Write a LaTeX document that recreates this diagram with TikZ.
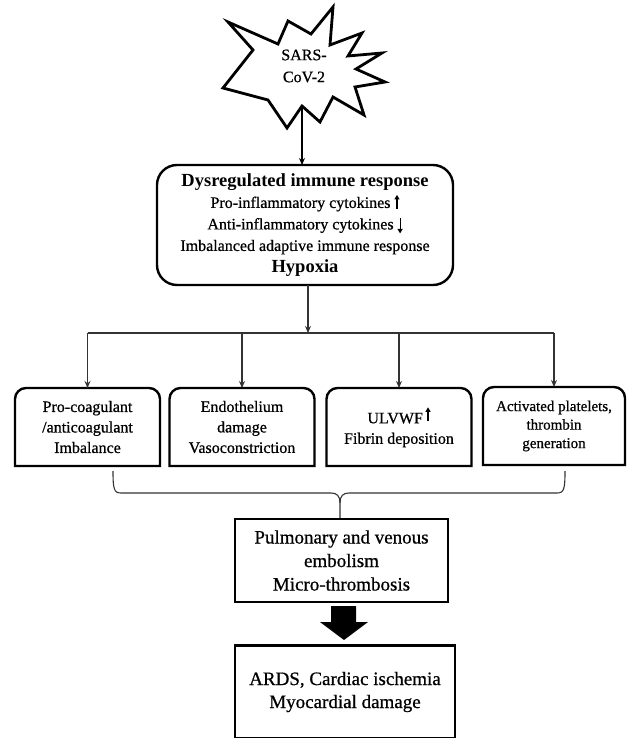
\documentclass[tikz,border=0pt]{standalone}
\usepackage{fontspec}
\setmainfont{Liberation Serif}[UprightFeatures={FakeBold=0.7}]
\usetikzlibrary{arrows.meta,calc}
\newcommand{\myuparr}{\tikz[baseline=0pt]\draw[line width=1.1pt,-{Triangle[length=4.5pt,width=5pt]}] (0pt,-1pt) -- (0pt,13pt);}
\newcommand{\mydownarr}{\tikz[baseline=0pt]\draw[line width=1.1pt,-{Triangle[length=4.5pt,width=5pt]}] (0pt,11pt) -- (0pt,-4pt);}
\newcommand{\toprounded}[1]{\draw[line width=2.4pt] (#1.south west) [rounded corners=11pt] -- (#1.north west) -- (#1.north east) [sharp corners] -- (#1.south east) -- cycle;}
\newcommand{\bigbold}[1]{{\fontsize{18.5}{21.5}\selectfont\textbf{#1}}}
\begin{document}
\begin{tikzpicture}[x=1pt,y=-1pt,
  every node/.style={inner sep=0pt, outer sep=0pt},
  box/.style={draw, line width=2.4pt, align=center},
  tbox/.style={minimum width=145pt, minimum height=78pt, align=center, font=\fontsize{16}{20.5}\selectfont},
  thinarr/.style={line width=1.1pt, draw=black!80, -{Stealth[length=7pt,width=6pt]}},
  thinline/.style={line width=1.1pt, draw=black!80},
  bracestyle/.style={line width=1.1pt, draw=black!80}]
\useasboundingbox (0,0) rectangle (628,738);
\fill[white] (0,0) rectangle (628,738);

% star
\draw[line width=2.8pt, fill=white, line join=miter]
  (228,22) -- (278,44) -- (288,21) -- (311,34) -- (333,7) -- (330,45) -- (362,33)
  -- (348,56) -- (382,53) -- (356,69) -- (385,82) -- (355,87) -- (364,115)
  -- (333,97) -- (320,122) -- (302,106) -- (287,128) -- (268,100) -- (223,88)
  -- (253,50) -- cycle;
\node[align=center, font=\fontsize{16}{22}\selectfont] (virus) at (304,66) {SARS-\\CoV-2};
\coordinate (starbot) at (302,108);

% main box
\node[box, rounded corners=20pt, minimum width=296pt, minimum height=120pt,
  font=\fontsize{16}{21.5}\selectfont] (main) at (305,225)
  {\bigbold{Dysregulated immune response}\\
   Pro-inflammatory cytokines \myuparr\\
   Anti-inflammatory cytokines \mydownarr\\
   Imbalanced adaptive immune response\\
   \bigbold{Hypoxia}};

\draw[thinarr, draw=black] (starbot) -- (starbot |- main.north);

% four boxes
\node[tbox] (b1) at (87.5,427) {Pro-coagulant\\/anticoagulant\\Imbalance};
\node[tbox] (b2) at (242,427) {Endothelium\\damage\\Vasoconstriction};
\node[tbox] (b3) at (399,427) {ULVWF\,\raisebox{3pt}{\myuparr}\\Fibrin deposition};
\node[tbox, minimum width=142pt, font=\fontsize{15}{18.5}\selectfont] (b4) at (554,426) {Activated platelets,\\thrombin\\generation};
\toprounded{b1}
\toprounded{b2}
\toprounded{b3}
\toprounded{b4}

\coordinate (split) at (308,333);
\draw[thinarr] ([xshift=3pt]main.south) -- (split);
\draw[thinline] (split -| b1.north) -- (split -| b4.north);
\foreach \b in {b1,b2,b3,b4} \draw[thinarr] (split -| \b.north) -- (\b.north);

% pulmonary box
\node[box, minimum width=213pt, minimum height=83pt, font=\fontsize{19}{23.5}\selectfont] (pul) at (341.5,560.5)
  {Pulmonary and venous\\embolism\\Micro-thrombosis};

% brace
\draw[bracestyle] (113,471) .. controls (113,489) and (114,493) .. (121,493) -- (331,493)
  .. controls (337,493) and (340,496) .. (340,503) -- (340,518);
\draw[bracestyle] (565,471) .. controls (565,489) and (564,493) .. (557,493) -- (349,493)
  .. controls (343,493) and (340,496) .. (340,503);

% final box
\node[box, minimum width=220pt, minimum height=93pt, font=\fontsize{19}{23}\selectfont] (fin) at (345,692)
  {ARDS, Cardiac ischemia\\Myocardial damage};

% thick arrow
\fill[black] (331,606) -- (356,606) -- (356,622) -- (368,622) -- (344,640) -- (320,622) -- (331,622) -- cycle;
\end{tikzpicture}
\end{document}
